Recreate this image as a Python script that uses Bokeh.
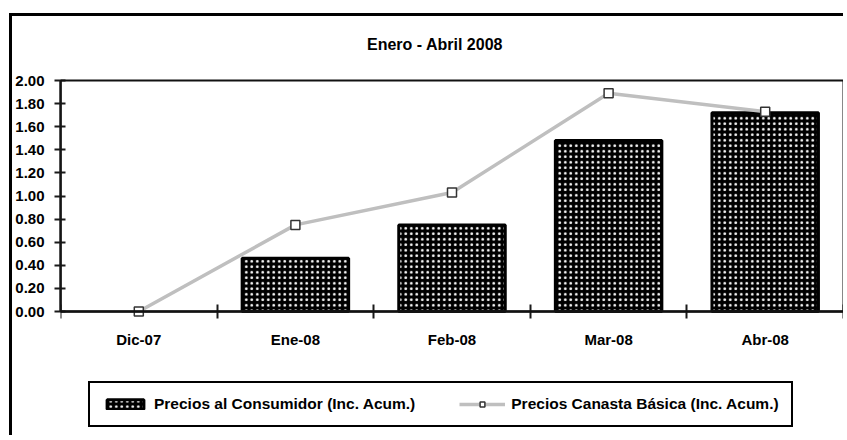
import numpy as np
from bokeh.plotting import figure
from bokeh.models import (Range1d, FixedTicker, NumeralTickFormatter, Legend, LegendItem,
                          Label, BoxAnnotation)
from bokeh.embed import file_html
from bokeh.resources import INLINE

categories = ["Dic-07", "Ene-08", "Feb-08", "Mar-08", "Abr-08"]
consumidor = [0.0, 0.46, 0.75, 1.48, 1.72]
canasta = [0.0, 0.75, 1.03, 1.89, 1.73]
y_ticks = [0.0, 0.2, 0.4, 0.6, 0.8, 1.0, 1.2, 1.4, 1.6, 1.8, 2.0]
title_text = "Enero - Abril 2008"

FONT = "Liberation Sans"

n = len(categories)
centers = np.arange(n) + 0.5
bounds = list(np.arange(n + 1).astype(float))

# bars with a zero value are not drawn (as in the original)
cons_arr = np.array(consumidor)
bar_x = list(centers[cons_arr > 0])
bar_top = list(cons_arr[cons_arr > 0])

# pixel geometry: the frame covers the whole chart; the 0..2 value band
# sits 64 px below the frame top and is 231 px tall; plot area is 784 px wide
FRAME_H, ABOVE_PX, VALUE_H = 422, 64, 231
FRAME_W, PLOT_W = 787, 784
y_max = 2.0
px_per_unit = VALUE_H / y_max
y_top = y_max + ABOVE_PX / px_per_unit
y_bottom = -(FRAME_H - ABOVE_PX - VALUE_H) / px_per_unit
x_end = n * FRAME_W / PLOT_W

p = figure(width=834, height=422, output_backend="svg", toolbar_location=None,
           x_range=Range1d(0, x_end), y_range=Range1d(y_bottom, y_top),
           min_border_left=47, min_border_right=0, min_border_top=0, min_border_bottom=0)
p.styles = {"border-left": "3px solid black", "border-top": "3px solid black",
            "margin-top": "13px", "margin-left": "9px"}
p.background_fill_color = "white"
p.border_fill_color = "white"
p.outline_line_color = None
p.xgrid.visible = False
p.ygrid.visible = False

# y axis
ya = p.yaxis[0]
ya.bounds = (0, y_max)
ya.ticker = FixedTicker(ticks=y_ticks)
ya.formatter = NumeralTickFormatter(format="0.00")
ya.axis_line_color = "#1a1a1a"
ya.axis_line_width = 2.5
ya.major_tick_line_color = "#1a1a1a"
ya.major_tick_line_width = 2
ya.major_tick_in = 5
ya.major_tick_out = 6
ya.minor_tick_line_color = None
ya.major_label_standoff = 10
ya.major_label_text_font = FONT
ya.major_label_text_font_size = "15px"
ya.major_label_text_font_style = "bold"
ya.major_label_text_color = "black"

# x axis (drawn at value 0)
xa = p.xaxis[0]
xa.fixed_location = 0
xa.bounds = (0, n)
xa.ticker = FixedTicker(ticks=list(centers), minor_ticks=bounds)
xa.major_label_overrides = {float(c): lab for c, lab in zip(centers, categories)}
xa.axis_line_color = "#1a1a1a"
xa.axis_line_width = 2.5
xa.major_tick_line_color = None
xa.major_tick_in = 0
xa.major_tick_out = 0
xa.minor_tick_line_color = "#1a1a1a"
xa.minor_tick_line_width = 2
xa.minor_tick_in = 7
xa.minor_tick_out = 7
xa.major_label_standoff = 12
xa.major_label_text_font = FONT
xa.major_label_text_font_size = "15px"
xa.major_label_text_font_style = "bold"
xa.major_label_text_color = "black"

# plot-area border
p.add_layout(BoxAnnotation(left=0, right=n, bottom=0, top=y_max,
                           fill_alpha=0, line_color="#111111", line_width=2, line_alpha=1))

# chart title, above the plot area
p.add_layout(Label(x=n / 2, y=y_max, x_offset=-17, y_offset=36, text=title_text,
                   text_align="center", text_baseline="middle",
                   text_font=FONT, text_font_size="16px", text_font_style="bold",
                   text_color="black"))

bars = p.vbar(x=bar_x, top=bar_top, bottom=0, width=0.68,
              fill_color="black", line_color="black", line_width=3,
              hatch_pattern="dot", hatch_color="white", hatch_scale=5.5, hatch_weight=1.3)
line = p.line(x=list(centers), y=canasta, line_color="#BFBFBF", line_width=3.5)
pts = p.scatter(x=list(centers), y=canasta, marker="square", size=9,
                fill_color="white", line_color="#333333", line_width=1.5)

legend = Legend(items=[
    LegendItem(label="Precios al Consumidor (Inc. Acum.)", renderers=[bars]),
    LegendItem(label="Precios Canasta Básica (Inc. Acum.)", renderers=[line, pts]),
], location=(28, 11), orientation="horizontal")
legend.padding = 12
legend.spacing = 44
legend.glyph_width = 46
legend.glyph_height = 12
legend.label_standoff = 6
legend.margin = 0
legend.border_line_color = "black"
legend.border_line_alpha = 1.0
legend.border_line_width = 2
legend.background_fill_color = "white"
legend.background_fill_alpha = 1
legend.label_text_font = FONT
legend.label_text_font_size = "15.5px"
legend.label_text_font_style = "bold"
legend.label_text_color = "black"
p.add_layout(legend, "center")

open("out.html", "w").write(file_html(p, INLINE))
